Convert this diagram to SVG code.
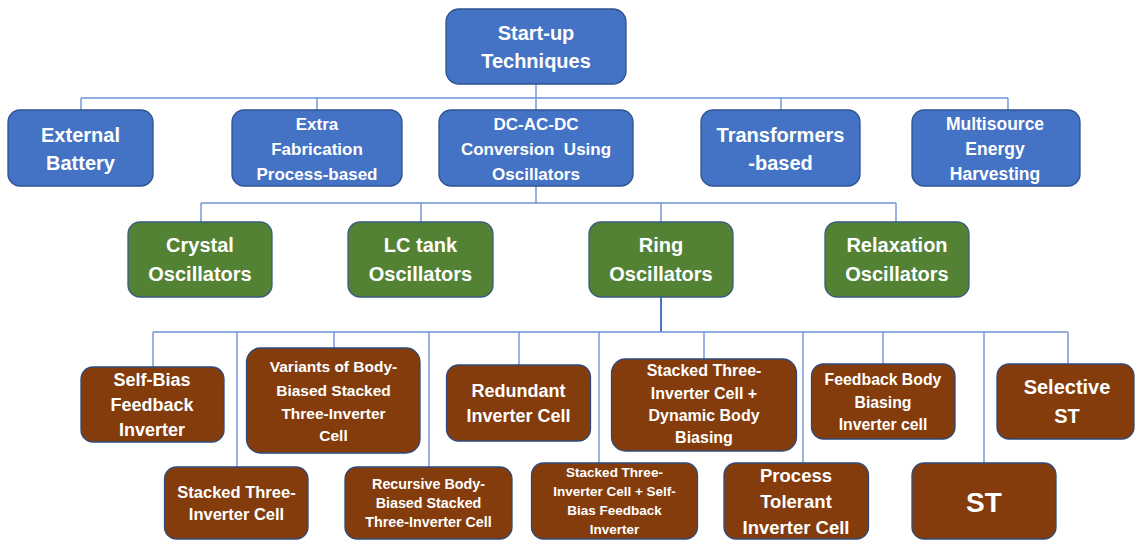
<svg xmlns="http://www.w3.org/2000/svg" width="1135" height="540" viewBox="0 0 1135 540">
<style>
.b{fill:#4472C4;stroke:#2F528F;stroke-width:1.3}
.g{fill:#548235;stroke:#3A5A80;stroke-width:1.3}
.r{fill:#843C0C;stroke:#2F4A7A;stroke-width:1.3}
text{font-family:"Liberation Sans",Arial,sans-serif;font-weight:bold;fill:#ffffff;text-anchor:middle}
.c path{fill:none;stroke:#6F93D6;stroke-width:1.4}
</style>
<rect width="1135" height="540" fill="#ffffff"/>
<g class="c" id="connectors">
<path d="M536 84V98M81 98H1008M81 98V110M317 98V110M536 98V110M781 98V110M1008 98V110"/>
<path d="M536 186V203M201 203H896M201 203V222M421 203V222M661 203V222M896 203V222"/>
<path d="M661 297V332" style="stroke:#4A74C8;stroke-width:2"/>
<path d="M153 332H1068M153 332V367M237 332V467M334 332V348M429 332V467M519 332V365M599 332V463M704 332V359M803 332V463M883 332V364M984 332V463M1068 332V364"/>
</g>
<g id="root"><rect class="b" x="446" y="9" width="180" height="75" rx="13"/><text font-size="20" x="536" y="40">Start-up</text><text font-size="20" x="536" y="68">Techniques</text></g>
<g id="external-battery"><rect class="b" x="8" y="110" width="145" height="76" rx="12"/><text font-size="20" x="80.5" y="142">External</text><text font-size="20" x="80.5" y="170">Battery</text></g>
<g id="extra-fabrication"><rect class="b" x="232" y="110" width="170" height="76" rx="12"/><text font-size="17" x="317" y="129.5">Extra</text><text font-size="17" x="317" y="155">Fabrication</text><text font-size="17" x="317" y="180">Process-based</text></g>
<g id="dc-ac-dc"><rect class="b" x="439" y="110" width="194" height="76" rx="12"/><text font-size="17" x="536" y="129.5">DC-AC-DC</text><text font-size="17" x="536" y="155" xml:space="preserve">Conversion  Using</text><text font-size="17" x="536" y="180">Oscillators</text></g>
<g id="transformers"><rect class="b" x="701" y="110" width="159" height="76" rx="12"/><text font-size="20" x="780.5" y="142">Transformers</text><text font-size="20" x="780.5" y="170">-based</text></g>
<g id="multisource"><rect class="b" x="912" y="110" width="168" height="76" rx="12"/><text font-size="17.5" x="995" y="129.5">Multisource</text><text font-size="17.5" x="995" y="155">Energy</text><text font-size="17.5" x="995" y="180">Harvesting</text></g>
<g id="crystal"><rect class="g" x="128" y="222" width="144" height="75" rx="12"/><text font-size="20" x="200" y="252">Crystal</text><text font-size="20" x="200" y="281">Oscillators</text></g>
<g id="lc-tank"><rect class="g" x="348" y="222" width="145" height="75" rx="12"/><text font-size="20" x="420.5" y="252">LC tank</text><text font-size="20" x="420.5" y="281">Oscillators</text></g>
<g id="ring"><rect class="g" x="589" y="222" width="144" height="75" rx="12"/><text font-size="20" x="661" y="252">Ring</text><text font-size="20" x="661" y="281">Oscillators</text></g>
<g id="relaxation"><rect class="g" x="825" y="222" width="144" height="75" rx="12"/><text font-size="20" x="897" y="252">Relaxation</text><text font-size="20" x="897" y="281">Oscillators</text></g>
<g id="self-bias"><rect class="r" x="81" y="367" width="143" height="75" rx="12"/><text font-size="18" x="152" y="386">Self-Bias</text><text font-size="18" x="152" y="411">Feedback</text><text font-size="18" x="152" y="436">Inverter</text></g>
<g id="variants"><rect class="r" x="246.5" y="348" width="173.5" height="105" rx="14"/><text font-size="15.5" x="333.5" y="372">Variants of Body-</text><text font-size="15.5" x="333.5" y="395.5">Biased Stacked</text><text font-size="15.5" x="333.5" y="418.5">Three-Inverter</text><text font-size="15.5" x="333.5" y="441">Cell</text></g>
<g id="redundant"><rect class="r" x="446.5" y="365" width="144" height="76" rx="12"/><text font-size="18" x="518.5" y="397">Redundant</text><text font-size="18" x="518.5" y="422">Inverter Cell</text></g>
<g id="stacked-dynamic"><rect class="r" x="611.5" y="359" width="185" height="92" rx="14"/><text font-size="16" x="704" y="376">Stacked Three-</text><text font-size="16" x="704" y="398.5">Inverter Cell +</text><text font-size="16" x="704" y="420.5">Dynamic Body</text><text font-size="16" x="704" y="443">Biasing</text></g>
<g id="feedback-body"><rect class="r" x="811.5" y="364" width="143.5" height="75" rx="12"/><text font-size="15.8" x="883" y="385">Feedback Body</text><text font-size="15.8" x="883" y="407.5">Biasing</text><text font-size="15.8" x="883" y="430">Inverter cell</text></g>
<g id="selective-st"><rect class="r" x="997" y="364" width="137" height="75" rx="12"/><text font-size="20" x="1067" y="394">Selective</text><text font-size="20" x="1067" y="423">ST</text></g>
<g id="stacked-three"><rect class="r" x="164.5" y="467" width="143.5" height="72" rx="12"/><text font-size="16.5" x="236.5" y="498">Stacked Three-</text><text font-size="16.5" x="236.5" y="520">Inverter Cell</text></g>
<g id="recursive"><rect class="r" x="345" y="467" width="167" height="72" rx="12"/><text font-size="14.3" x="428.5" y="489">Recursive Body-</text><text font-size="14.3" x="428.5" y="508">Biased Stacked</text><text font-size="14.3" x="428.5" y="527">Three-Inverter Cell</text></g>
<g id="stacked-self-bias"><rect class="r" x="531.5" y="463" width="166" height="76" rx="12"/><text font-size="13.5" x="614.5" y="477">Stacked Three-</text><text font-size="13.5" x="614.5" y="496">Inverter Cell + Self-</text><text font-size="13.5" x="614.5" y="515">Bias Feedback</text><text font-size="13.5" x="614.5" y="533.5">Inverter</text></g>
<g id="process-tolerant"><rect class="r" x="724" y="463" width="144.5" height="76" rx="12"/><text font-size="18.5" x="796" y="482">Process</text><text font-size="18.5" x="796" y="508">Tolerant</text><text font-size="18.5" x="796" y="533.5">Inverter Cell</text></g>
<g id="st"><rect class="r" x="912" y="463" width="144" height="76" rx="12"/><text font-size="28" x="984" y="512">ST</text></g>
</svg>
